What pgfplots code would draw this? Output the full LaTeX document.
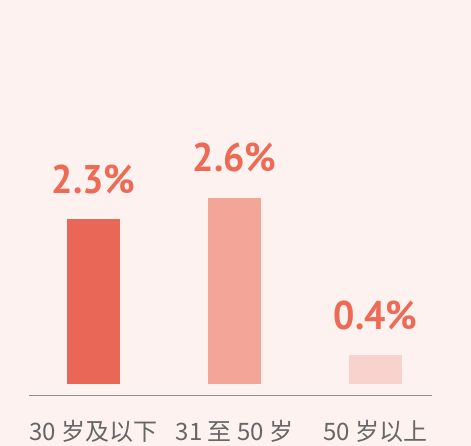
\documentclass[border=0pt]{standalone}
\usepackage{pgfplots}
\pgfplotsset{compat=1.18}
\usepackage{fontspec}
\setmainfont{Noto Sans CJK SC}
\newfontfamily\numfont{PT Sans}[FakeStretch=0.94]
\definecolor{bgc}{HTML}{FDF2EF}
\definecolor{barA}{HTML}{E96756}
\definecolor{barB}{HTML}{F3A598}
\definecolor{barC}{HTML}{F8D2CC}
\definecolor{lblc}{HTML}{EE6A55}
\definecolor{tickc}{HTML}{666666}
\definecolor{linec}{HTML}{8E8E8E}
\begin{document}
\begin{tikzpicture}
\fill[bgc] (0,0) rectangle (471bp,446bp);
\useasboundingbox (0,0) rectangle (471bp,446bp);
\begin{axis}[
  at={(29bp,51bp)}, anchor=south west,
  scale only axis,
  width=403bp, height=295bp,
  xmin=-0.457, xmax=2.401,
  ymin=-0.153, ymax=3.961,
  axis x line=bottom, axis y line=none,
  x axis line style={linec, line width=0.8pt, -},
  xtick={0,1,2},
  xticklabels={30 岁及以下, 31 至 50 岁, 50 岁以上},
  major tick length=0pt,
  xticklabel style={anchor=base, yshift=-45bp, text=tickc, font=\fontsize{24bp}{28bp}\selectfont, inner sep=0pt},
  ytick=\empty,
  clip=false,
  ybar, bar width=53bp, bar shift=0pt,
  nodes near coords={\pgfmathprintnumber[fixed,precision=1,fixed zerofill,assume math mode=true]{\pgfplotspointmeta}\%},
  nodes near coords style={anchor=base, yshift=26bp, inner sep=0pt, text=lblc, font=\numfont\bfseries\fontsize{40bp}{44bp}\selectfont},
]
\addplot[draw=none, fill=barA] coordinates {(0,2.3)};
\addplot[draw=none, fill=barB] coordinates {(1,2.6)};
\addplot[draw=none, fill=barC] coordinates {(2,0.4)};
\end{axis}
\end{tikzpicture}
\end{document}
